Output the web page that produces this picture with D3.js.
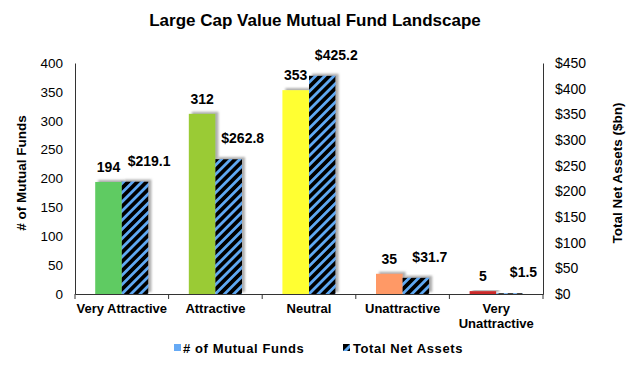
<!DOCTYPE html>
<html>
<head>
<meta charset="utf-8">
<script src="https://cdn.jsdelivr.net/npm/d3@7"></script>
<style>
  body { margin: 0; background: #fff; }
  text { font-family: "Liberation Sans", Arial, sans-serif; }
</style>
</head>
<body>
<svg id="chart" width="630" height="368"></svg>
<script>
// chart data
var categories = ["Very Attractive", "Attractive", "Neutral", "Unattractive", "Very Unattractive"];
var fundCounts = [194, 312, 353, 35, 5];
var netAssets = [219.1, 262.8, 425.2, 31.7, 1.5];
var barColors = ["#5fcb62", "#9acb34", "#ffff33", "#ff9966", "#cc2a2a"];
var leftTicks = [0, 50, 100, 150, 200, 250, 300, 350, 400];
var rightTicks = [0, 50, 100, 150, 200, 250, 300, 350, 400, 450];
var seriesNames = ["# of Mutual Funds", "Total Net Assets"];

var margin = {top: 63, right: 87, bottom: 74, left: 75},
    width = 630 - margin.left - margin.right,
    height = 368 - margin.top - margin.bottom;

var svg = d3.select("#chart");
var defs = svg.append("defs");

// hatch pattern for net assets bars
var pat = defs.append("pattern")
    .attr("id", "hatch")
    .attr("patternUnits", "userSpaceOnUse")
    .attr("width", 6.5).attr("height", 6.5)
    .attr("patternTransform", "rotate(45)");
pat.append("rect").attr("width", 6.5).attr("height", 6.5).attr("fill", "#000");
pat.append("rect").attr("width", 2.8).attr("height", 6.5).attr("fill", "#5ea8f2");

var shadow = defs.append("filter").attr("id", "shadow")
    .attr("x", "-20%").attr("y", "-20%").attr("width", "150%").attr("height", "150%");
shadow.append("feDropShadow")
    .attr("dx", 3).attr("dy", -2).attr("stdDeviation", 1)
    .attr("flood-color", "#999").attr("flood-opacity", 0.8);

var g = svg.append("g").attr("transform", "translate(" + margin.left + "," + margin.top + ")");

// scales
var x0 = d3.scaleBand().domain(categories).range([0, width]).padding(0);
var x1 = d3.scaleBand().domain(seriesNames).range([0, x0.bandwidth()]).paddingInner(0).paddingOuter(0.76);
var yL = d3.scaleLinear().domain([0, 400]).range([height, 0]);
var yR = d3.scaleLinear().domain([0, 450]).range([height, 0]);

// title
svg.append("text")
    .attr("x", 315).attr("y", 26)
    .attr("text-anchor", "middle")
    .style("font-size", "17px").style("font-weight", "bold")
    .text("Large Cap Value Mutual Fund Landscape");

// bars
var groups = g.selectAll(".cat")
    .data(categories)
  .enter().append("g")
    .attr("class", "cat")
    .attr("transform", function(d) { return "translate(" + x0(d) + ",0)"; });

groups.append("rect")
    .attr("x", x1(seriesNames[0]))
    .attr("width", x1.bandwidth())
    .attr("y", function(d, i) { return yL(fundCounts[i]); })
    .attr("height", function(d, i) { return height - yL(fundCounts[i]); })
    .attr("fill", function(d, i) { return barColors[i]; })
    .attr("filter", "url(#shadow)");

groups.append("rect")
    .attr("x", x1(seriesNames[1]))
    .attr("width", x1.bandwidth())
    .attr("y", function(d, i) { return yR(netAssets[i]); })
    .attr("height", function(d, i) { return height - yR(netAssets[i]); })
    .attr("fill", "url(#hatch)")
    .attr("filter", "url(#shadow)");

// value labels
groups.append("text")
    .attr("x", x1(seriesNames[0]) + x1.bandwidth() / 2)
    .attr("y", function(d, i) { return yL(fundCounts[i]) - 10; })
    .attr("text-anchor", "middle")
    .style("font-size", "14px").style("font-weight", "bold")
    .text(function(d, i) { return fundCounts[i]; });

groups.append("text")
    .attr("x", x1(seriesNames[1]) + x1.bandwidth() / 2 + 14)
    .attr("y", function(d, i) { return yR(netAssets[i]) - 16; })
    .attr("text-anchor", "middle")
    .style("font-size", "14px").style("font-weight", "bold")
    .text(function(d, i) { return "$" + netAssets[i].toFixed(1); });

// axes
var xAxis = g.append("g")
    .attr("transform", "translate(0," + height + ")")
    .call(d3.axisBottom(x0).tickSize(0).tickFormat(""));
xAxis.select(".domain").attr("stroke", "#333");
xAxis.selectAll(".edge")
    .data(d3.range(categories.length + 1))
  .enter().append("line")
    .attr("x1", function(d) { return d * x0.step(); })
    .attr("x2", function(d) { return d * x0.step(); })
    .attr("y1", 0).attr("y2", 5)
    .attr("stroke", "#333");

// category labels
g.selectAll(".catlabel")
    .data(categories)
  .enter().append("text")
    .attr("class", "catlabel")
    .attr("text-anchor", "middle")
    .attr("x", function(d) { return x0(d) + x0.bandwidth() / 2; })
    .attr("y", height + 19)
    .style("font-size", "13px").style("font-weight", "bold")
    .each(function(d) {
      var t = d3.select(this);
      if (d === "Very Unattractive") {
        t.append("tspan").attr("x", t.attr("x")).attr("dy", 0).text("Very");
        t.append("tspan").attr("x", t.attr("x")).attr("dy", 15).text("Unattractive");
      } else {
        t.text(d);
      }
    });

var left = g.append("g")
    .call(d3.axisLeft(yL).tickValues(leftTicks).tickSize(0).tickPadding(12));
left.select(".domain").attr("stroke", "#333");
left.selectAll("text").style("font-size", "13.5px").attr("fill", "#000")
    .style("font-family", "'Liberation Sans', Arial, sans-serif");

var right = g.append("g")
    .attr("transform", "translate(" + width + ",0)")
    .call(d3.axisRight(yR).tickValues(rightTicks).tickSize(0).tickPadding(12)
      .tickFormat(function(d) { return "$" + d; }));
right.select(".domain").attr("stroke", "#333");
right.selectAll("text").style("font-size", "14px").attr("fill", "#000")
    .style("font-family", "'Liberation Sans', Arial, sans-serif");

// axis titles
svg.append("text")
    .attr("transform", "translate(26,173) rotate(-90)")
    .attr("text-anchor", "middle")
    .style("font-size", "13.5px").style("font-weight", "bold")
    .text("# of Mutual Funds");

svg.append("text")
    .attr("transform", "translate(622,173) rotate(-90)")
    .attr("text-anchor", "middle")
    .style("font-size", "13.5px").style("font-weight", "bold")
    .text("Total Net Assets ($bn)");

// legend
var legend = svg.append("g").attr("transform", "translate(0,353)");
legend.append("rect").attr("x", 174).attr("y", -9).attr("width", 7).attr("height", 7).attr("fill", "#66aaf5");
legend.append("text").attr("x", 183).attr("y", 0)
    .style("font-size", "13px").style("font-weight", "bold").style("letter-spacing", "0.6px")
    .text(seriesNames[0]);
legend.append("rect").attr("x", 343).attr("y", -9).attr("width", 7).attr("height", 7).attr("fill", "#000");
legend.append("path").attr("d", "M343,-2 L350,-9 L350,-5 L347,-2 Z").attr("fill", "#5ea8f2");
legend.append("text").attr("x", 353).attr("y", 0)
    .style("font-size", "13px").style("font-weight", "bold").style("letter-spacing", "0.6px")
    .text(seriesNames[1]);
</script>
</body>
</html>
